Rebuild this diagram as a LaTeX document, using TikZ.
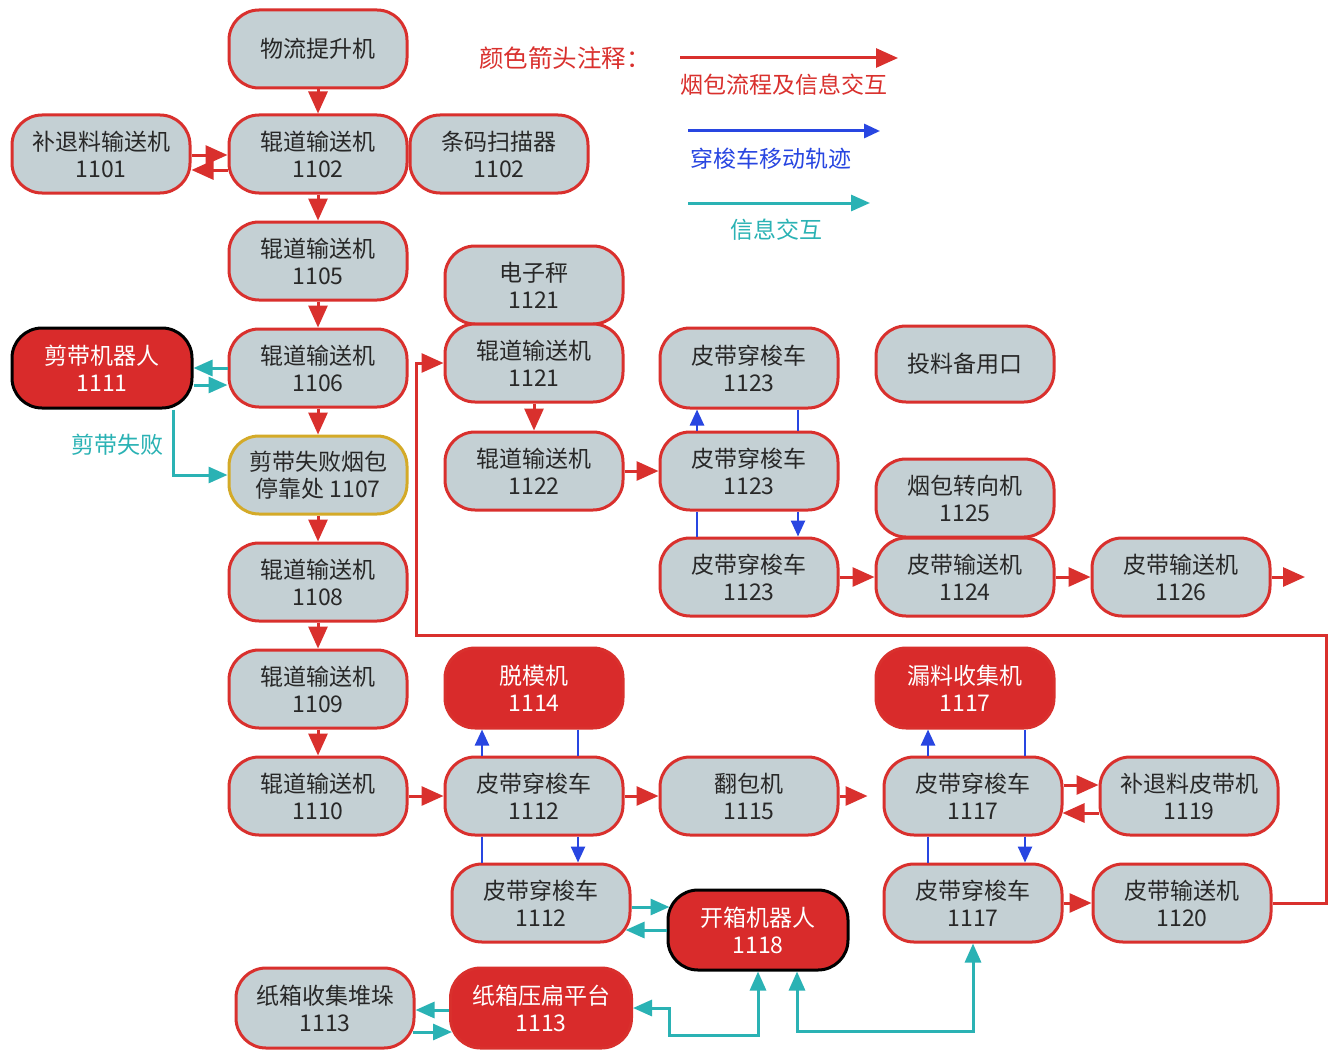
\documentclass[tikz,border=0pt]{standalone}
\usepackage{fontspec}
\setmainfont{Noto Sans CJK SC}
\usetikzlibrary{arrows.meta}
\definecolor{bfill}{RGB}{196,208,212}
\definecolor{bred}{RGB}{217,48,45}
\definecolor{rfill}{RGB}{217,43,43}
\definecolor{tealc}{RGB}{42,178,180}
\definecolor{bluec}{RGB}{40,70,225}
\definecolor{ybord}{RGB}{212,170,40}
\definecolor{txt}{RGB}{40,40,40}
\begin{document}
\begin{tikzpicture}[x=1pt,y=-1pt,
  box/.style={draw=bred, line width=3pt, fill=bfill, rounded corners=30pt,
    minimum width=178pt, minimum height=78pt, inner sep=0pt, align=center,
    font=\fontsize{23}{27}\selectfont, text=txt},
  redbox/.style={box, fill=rfill, text=white, minimum height=80pt},
  robot/.style={redbox, draw=black, minimum width=180pt},
  ra/.style={draw=bred, line width=3pt, -{Triangle[length=22pt,width=19pt]}},
  ta/.style={draw=tealc, line width=3pt, -{Triangle[length=19pt,width=16pt]}},
  tb/.style={draw=tealc, line width=3pt, {Triangle[length=19pt,width=16pt]}-{Triangle[length=19pt,width=16pt]}},
  bl/.style={draw=bluec, line width=2.5pt},
  bla/.style={bl, -{Triangle[length=16pt,width=14pt]}},
  lab/.style={font=\fontsize{23}{27}\selectfont, inner sep=0pt}
]
\useasboundingbox[fill=white] (0,0) rectangle (1335,1062);

% nodes
\node[box] (wl) at (318,49) {物流提升机};
\node[box] (n1101) at (101,154) {补退料输送机\\1101};
\node[box] (n1102) at (318,154) {辊道输送机\\1102};
\node[box] (scan) at (499,154) {条码扫描器\\1102};
\node[box] (n1105) at (318,261) {辊道输送机\\1105};
\node[robot] (n1111) at (102,368) {剪带机器人\\1111};
\node[box] (n1106) at (318,368) {辊道输送机\\1106};
\node[box, draw=ybord] (n1107) at (318,475) {剪带失败烟包\\停靠处 1107};
\node[box] (n1108) at (318,582) {辊道输送机\\1108};
\node[box] (n1109) at (318,689) {辊道输送机\\1109};
\node[box] (n1110) at (318,796) {辊道输送机\\1110};
\node[box] (scale) at (534,285) {电子秤\\1121};
\node[box] (r1121) at (534,363) {辊道输送机\\1121};
\node[box] (r1122) at (534,471) {辊道输送机\\1122};
\node[box, minimum height=80pt] (s1123a) at (749,368) {皮带穿梭车\\1123};
\node[box] (s1123b) at (749,471) {皮带穿梭车\\1123};
\node[box] (s1123c) at (749,577) {皮带穿梭车\\1123};
\node[box, minimum height=76pt] (spare) at (965,364) {投料备用口};
\node[box] (turn) at (965,498) {烟包转向机\\1125};
\node[box] (b1124) at (965,577) {皮带输送机\\1124};
\node[box] (b1126) at (1181,577) {皮带输送机\\1126};
\node[redbox, draw=bred] (demold) at (534,688) {脱模机\\1114};
\node[redbox, draw=bred] (leak) at (965,688) {漏料收集机\\1117};
\node[box] (s1112a) at (534,796) {皮带穿梭车\\1112};
\node[box] (flip) at (749,796) {翻包机\\1115};
\node[box] (s1117a) at (973,796) {皮带穿梭车\\1117};
\node[box] (b1119) at (1189,796) {补退料皮带机\\1119};
\node[box] (s1112b) at (541,903) {皮带穿梭车\\1112};
\node[robot] (r1118) at (758,930) {开箱机器人\\1118};
\node[box] (s1117b) at (973,903) {皮带穿梭车\\1117};
\node[box] (b1120) at (1182,903) {皮带输送机\\1120};
\node[box, minimum height=80pt] (stack) at (325,1008) {纸箱收集堆垛\\1113};
\node[redbox, draw=bred, minimum width=181pt] (press) at (541,1008) {纸箱压扁平台\\1113};

% legend
\node[lab, text=bred, font=\fontsize{24.5}{28}\selectfont] (lgt) at (565,58) {颜色箭头注释：};
\coordinate (lr1) at (680,58); \coordinate (lr2) at (898,58);
\coordinate (lb1) at (688,131); \coordinate (lb2) at (880,131);
\coordinate (lt1) at (688,203); \coordinate (lt2) at (870,203);
\draw[ra] (lr1) -- (lr2);
\draw[bla, line width=3pt] (lb1) -- (lb2);
\draw[ta] (lt1) -- (lt2);
\node[lab, text=bred] (lgr) at (784,85) {烟包流程及信息交互};
\node[lab, text=bluec] (lgb) at (771,159) {穿梭车移动轨迹};
\node[lab, text=tealc] (lgc) at (776,230) {信息交互};

% main red flow
\draw[ra] (wl) -- (n1102);
\draw[ra] (n1102) -- (n1105);
\draw[ra] (n1105) -- (n1106);
\draw[ra] (n1106) -- (n1107);
\draw[ra] (n1107) -- (n1108);
\draw[ra] (n1108) -- (n1109);
\draw[ra] (n1109) -- (n1110);
\draw[ra] ([yshift=-1pt]n1101.east) -- ([yshift=-1pt]n1102.west);
\draw[ra] ([yshift=-16pt]n1102.west) -- ([yshift=-16pt]n1101.east);
\draw[ra] (r1121) -- (r1122);
\draw[ra] (r1122) -- (s1123b);
\draw[ra] (s1123c) -- (b1124);
\draw[ra] (b1124) -- (b1126);
\coordinate (out1126) at (1305,577);
\draw[ra] (b1126) -- (out1126);
\draw[ra] (n1110) -- (s1112a);
\draw[ra] (s1112a) -- (flip);
\draw[ra, shorten >=15pt] (flip) -- (s1117a);
\draw[ra] ([yshift=11pt]s1117a.east) -- ([yshift=11pt]b1119.west);
\draw[ra] ([yshift=-17pt]b1119.west) -- ([xshift=-1pt,yshift=-17pt]s1117a.east);
\draw[ra] (s1117b) -- (b1120);
\coordinate (c1) at (1326,635);
\coordinate (c2) at (416,635);
\draw[ra] (b1120.east) -| (c1) -- (c2) |- (r1121.west);

% blue shuttle tracks
\draw[bla] ([xshift=-52pt]s1123b.north) -- ([xshift=-52pt]s1123a.south);
\draw[bl] ([xshift=49pt]s1123a.south) -- ([xshift=49pt]s1123b.north);
\draw[bl] ([xshift=-52pt]s1123b.south) -- ([xshift=-52pt]s1123c.north);
\draw[bla] ([xshift=49pt]s1123b.south) -- ([xshift=49pt]s1123c.north);
\draw[bla] ([xshift=-52pt]s1112a.north) -- ([xshift=-52pt]s1112a.north |- demold.south);
\draw[bl] ([xshift=44pt]s1112a.north |- demold.south) -- ([xshift=44pt]s1112a.north);
\draw[bl] ([xshift=-52pt]s1112a.south) -- ([xshift=-52pt]s1112a.south |- s1112b.north);
\draw[bla] ([xshift=44pt]s1112a.south) -- ([xshift=44pt]s1112a.south |- s1112b.north);
\draw[bla] ([xshift=-45pt]s1117a.north) -- ([xshift=-45pt]s1117a.north |- leak.south);
\draw[bl] ([xshift=52pt]s1117a.north |- leak.south) -- ([xshift=52pt]s1117a.north);
\draw[bl] ([xshift=-45pt]s1117a.south) -- ([xshift=-45pt]s1117b.north);
\draw[bla] ([xshift=52pt]s1117a.south) -- ([xshift=52pt]s1117b.north);

% teal information
\draw[ta] (n1106.west) -- ([yshift=0pt]n1111.east);
\draw[ta] ([yshift=-17pt]n1111.east) -- ([yshift=-17pt]n1106.west);
\draw[ta] ([xshift=71pt]n1111.south) |- (n1107.west);
\node[lab, text=tealc] (lfail) at (117,445) {剪带失败};
\draw[ta] ([yshift=-4pt]s1112b.east) -- ([xshift=3pt,yshift=23pt]r1118.west);
\draw[ta] (r1118.west) -- ([xshift=-6pt,yshift=-27pt]s1112b.east);
\draw[ta] ([yshift=-2pt]press.west) -- ([yshift=-2pt]stack.east);
\draw[ta] ([xshift=-3pt,yshift=-24pt]stack.east) -- ([xshift=3pt,yshift=-24pt]press.west);
\draw[tb] (press.east) -- ++(36,0) -- ++(0,27) -| (r1118.south);
\draw[tb] ([xshift=39pt]r1118.south) -- ++(0,60) -| (s1117b.south);
\end{tikzpicture}
\end{document}
